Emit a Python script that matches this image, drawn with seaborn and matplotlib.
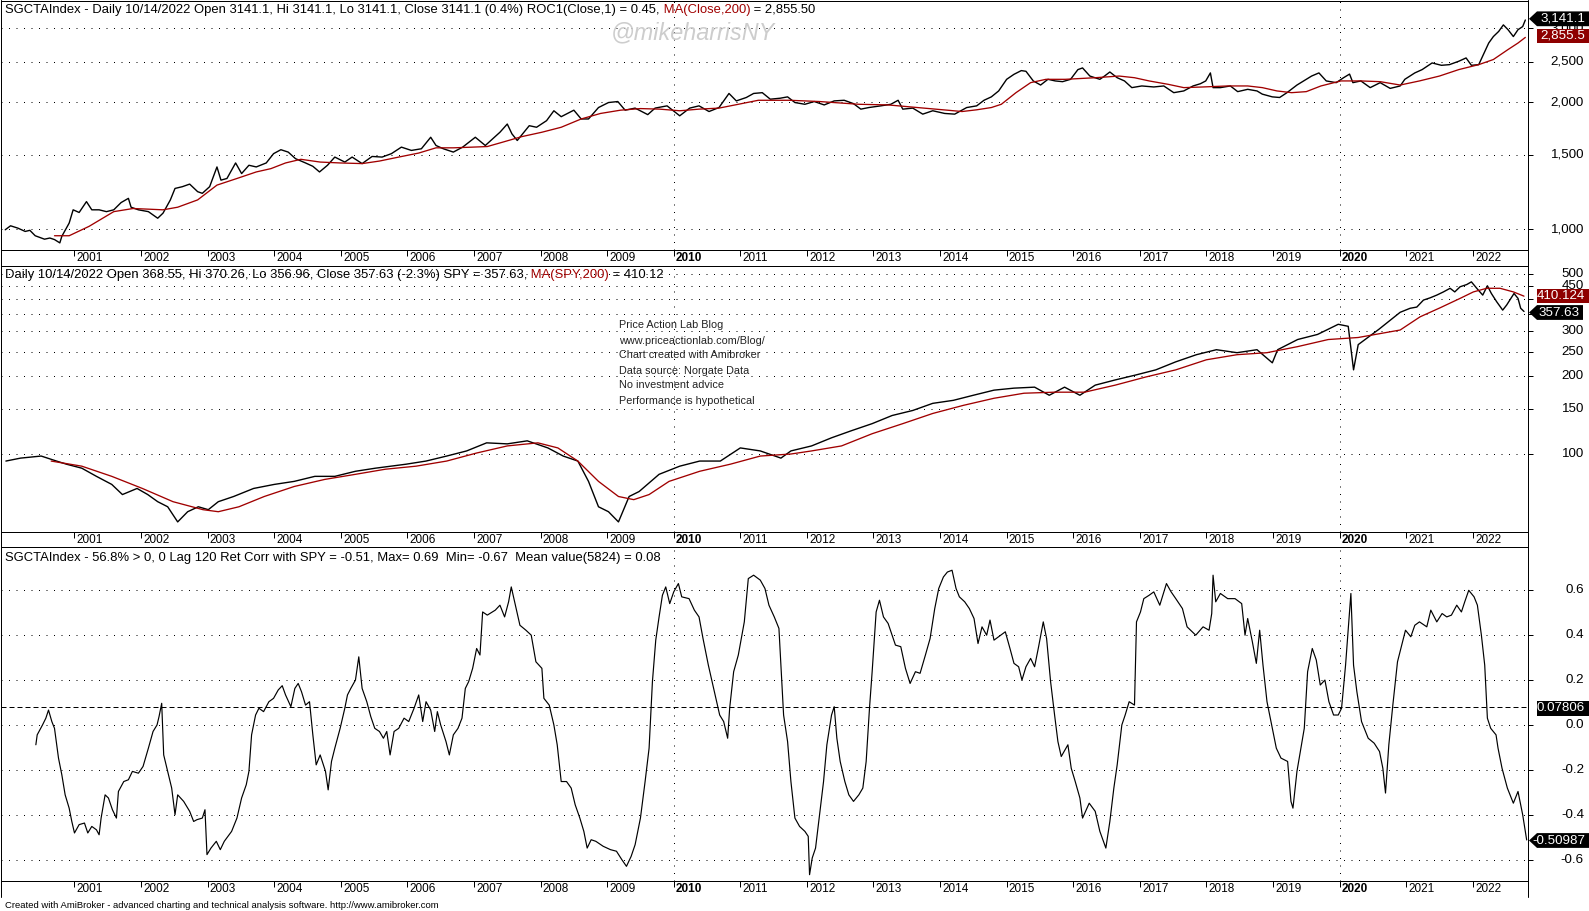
import matplotlib
matplotlib.use("Agg")
import matplotlib.pyplot as plt
import seaborn as sns
import pandas as pd
from matplotlib.ticker import FixedLocator, NullLocator, NullFormatter
from matplotlib.patches import Polygon
from matplotlib.lines import Line2D

# ---------------- data (fractional year, value) ----------------
SGCTA = [
    (1999.96, 996), (2000.04, 1018), (2000.15, 1005), (2000.26, 987), (2000.33, 993), (2000.41, 964),
    (2000.55, 946), (2000.63, 952), (2000.70, 944), (2000.78, 927), (2000.81, 961), (2000.85, 987),
    (2000.92, 1033), (2000.98, 1111), (2001.07, 1095), (2001.18, 1162), (2001.26, 1111), (2001.37, 1111),
    (2001.48, 1100), (2001.59, 1111), (2001.70, 1156), (2001.81, 1183), (2001.85, 1127), (2001.96, 1111),
    (2002.11, 1100), (2002.25, 1061), (2002.33, 1091), (2002.44, 1173), (2002.51, 1249), (2002.62, 1261),
    (2002.73, 1279), (2002.85, 1227), (2002.92, 1216), (2003.03, 1261), (2003.14, 1405), (2003.20, 1307),
    (2003.29, 1319), (2003.42, 1436), (2003.51, 1355), (2003.62, 1418), (2003.73, 1405), (2003.88, 1436),
    (2003.99, 1511), (2004.10, 1544), (2004.21, 1524), (2004.32, 1470), (2004.47, 1436), (2004.58, 1410),
    (2004.68, 1367), (2004.80, 1418), (2004.91, 1483), (2005.06, 1443), (2005.17, 1483), (2005.32, 1431),
    (2005.47, 1488), (2005.62, 1483), (2005.76, 1511), (2005.91, 1566), (2006.06, 1538), (2006.21, 1552),
    (2006.35, 1653), (2006.43, 1580), (2006.54, 1552), (2006.69, 1524), (2006.83, 1566), (2007.02, 1653),
    (2007.17, 1580), (2007.28, 1638), (2007.39, 1699), (2007.50, 1777), (2007.57, 1684), (2007.65, 1624),
    (2007.83, 1761), (2007.94, 1746), (2008.09, 1810), (2008.20, 1911), (2008.31, 1850), (2008.50, 1917),
    (2008.61, 1827), (2008.72, 1827), (2008.87, 1945), (2009.02, 1999), (2009.16, 2010), (2009.27, 1917),
    (2009.42, 1939), (2009.61, 1871), (2009.72, 1939), (2009.90, 1963), (2010.09, 1859), (2010.24, 1939),
    (2010.38, 1963), (2010.53, 1903), (2010.68, 1945), (2010.83, 2101), (2010.94, 2017), (2011.09, 2055),
    (2011.20, 2101), (2011.33, 2110), (2011.45, 2036), (2011.60, 2047), (2011.71, 2062), (2011.82, 1999),
    (2011.97, 1980), (2012.11, 2010), (2012.26, 1973), (2012.41, 2017), (2012.56, 2024), (2012.70, 1987),
    (2012.81, 1928), (2012.93, 1945), (2013.11, 1963), (2013.26, 1980), (2013.37, 2024), (2013.44, 1928),
    (2013.59, 1939), (2013.74, 1876), (2013.89, 1911), (2014.07, 1883), (2014.22, 1876), (2014.40, 1945),
    (2014.55, 1963), (2014.66, 2024), (2014.77, 2062), (2014.88, 2130), (2015.00, 2270), (2015.11, 2333),
    (2015.22, 2381), (2015.29, 2372), (2015.40, 2250), (2015.51, 2200), (2015.62, 2270), (2015.73, 2250),
    (2015.84, 2241), (2015.96, 2270), (2016.07, 2394), (2016.14, 2416), (2016.25, 2311), (2016.40, 2270),
    (2016.47, 2311), (2016.55, 2363), (2016.66, 2290), (2016.77, 2250), (2016.88, 2169), (2017.03, 2189),
    (2017.21, 2177), (2017.36, 2189), (2017.51, 2110), (2017.66, 2130), (2017.80, 2189), (2017.91, 2216),
    (2017.99, 2250), (2018.06, 2351), (2018.10, 2169), (2018.21, 2169), (2018.36, 2189), (2018.47, 2122),
    (2018.62, 2149), (2018.76, 2130), (2018.84, 2093), (2018.99, 2062), (2019.10, 2055), (2019.21, 2110),
    (2019.36, 2200), (2019.50, 2270), (2019.58, 2311), (2019.69, 2351), (2019.80, 2250), (2019.95, 2229),
    (2020.06, 2290), (2020.15, 2336), (2020.20, 2229), (2020.32, 2250), (2020.46, 2169), (2020.61, 2229),
    (2020.76, 2160), (2020.91, 2189), (2020.98, 2270), (2021.13, 2351), (2021.24, 2394), (2021.39, 2483),
    (2021.53, 2451), (2021.65, 2460), (2021.79, 2506), (2021.90, 2552), (2021.98, 2451), (2022.09, 2460),
    (2022.16, 2599), (2022.24, 2769), (2022.31, 2869), (2022.39, 2951), (2022.46, 3058), (2022.53, 2979),
    (2022.61, 2869), (2022.68, 2979), (2022.75, 3030), (2022.79, 3141),
]

SGCTA_MA = [
    (2000.70, 964), (2000.92, 964), (2001.22, 1015), (2001.59, 1100), (2001.88, 1119), (2002.11, 1115),
    (2002.33, 1111), (2002.55, 1127), (2002.85, 1173), (2003.14, 1272), (2003.44, 1319), (2003.73, 1367),
    (2003.95, 1392), (2004.17, 1436), (2004.40, 1465), (2004.69, 1443), (2004.99, 1436), (2005.32, 1431),
    (2005.58, 1451), (2005.87, 1483), (2006.17, 1516), (2006.43, 1560), (2006.69, 1560), (2006.98, 1566),
    (2007.20, 1571), (2007.43, 1609), (2007.72, 1659), (2008.02, 1699), (2008.31, 1746), (2008.61, 1827),
    (2008.90, 1883), (2009.20, 1917), (2009.50, 1934), (2009.79, 1928), (2010.09, 1911), (2010.38, 1928),
    (2010.68, 1939), (2010.97, 1980), (2011.27, 2024), (2011.74, 2024), (2012.19, 2010), (2012.78, 1980),
    (2013.22, 1973), (2013.66, 1945), (2014.11, 1917), (2014.33, 1903), (2014.55, 1921), (2014.77, 1945),
    (2014.92, 1980), (2015.14, 2110), (2015.36, 2229), (2015.59, 2270), (2015.88, 2270), (2016.33, 2290),
    (2016.69, 2311), (2016.92, 2290), (2017.14, 2250), (2017.43, 2208), (2017.66, 2169), (2017.95, 2177),
    (2018.32, 2189), (2018.62, 2189), (2018.84, 2169), (2019.06, 2130), (2019.28, 2110), (2019.50, 2122),
    (2019.72, 2189), (2020.02, 2250), (2020.32, 2250), (2020.61, 2241), (2020.91, 2200), (2021.20, 2250),
    (2021.50, 2311), (2021.79, 2394), (2022.09, 2460), (2022.31, 2530), (2022.53, 2672), (2022.68, 2769),
    (2022.79, 2855.5),
]

SPY = [
    (1999.97, 93.9), (2000.19, 96.4), (2000.50, 98.2), (2000.73, 93.9), (2000.88, 91.3), (2001.11, 88.1),
    (2001.33, 81.9), (2001.56, 76.2), (2001.72, 69.6), (2001.94, 73.5), (2002.10, 69.6), (2002.25, 65.3),
    (2002.40, 62.4), (2002.55, 54.5), (2002.70, 59.7), (2002.86, 62.4), (2003.01, 60.8), (2003.16, 65.3),
    (2003.39, 68.4), (2003.69, 73.5), (2004.00, 76.2), (2004.30, 78.3), (2004.61, 81.9), (2004.91, 81.9),
    (2005.22, 85.7), (2005.52, 88.1), (2005.98, 91.3), (2006.28, 93.9), (2006.59, 98.2), (2006.89, 102.8),
    (2007.19, 110.5), (2007.50, 109.5), (2007.80, 112.5), (2008.11, 105.6), (2008.34, 98.2), (2008.56, 93.9),
    (2008.72, 78.3), (2008.87, 62.4), (2009.02, 59.7), (2009.17, 54.5), (2009.33, 68.4), (2009.48, 71.5),
    (2009.78, 83.4), (2010.09, 89.7), (2010.39, 93.9), (2010.70, 93.9), (2011.00, 105.6), (2011.30, 102.8),
    (2011.61, 96.4), (2011.76, 102.8), (2012.07, 107.5), (2012.37, 115.6), (2012.67, 123.2), (2012.98, 131.2),
    (2013.28, 141.1), (2013.59, 147.6), (2013.89, 157.3), (2014.20, 161.6), (2014.50, 169.1), (2014.81, 177.0),
    (2015.11, 180.2), (2015.42, 181.8), (2015.64, 169.1), (2015.87, 181.8), (2016.10, 169.1), (2016.33, 185.1),
    (2016.63, 193.9), (2016.94, 202.7), (2017.24, 212.2), (2017.54, 228.0), (2017.85, 243.0), (2018.15, 254.1),
    (2018.46, 247.4), (2018.76, 254.1), (2018.99, 226.0), (2019.07, 254.1), (2019.37, 278.3), (2019.67, 291.3),
    (2019.98, 318.9), (2020.13, 313.2), (2020.21, 212.2), (2020.28, 265.9), (2020.59, 304.9), (2020.91, 355.0),
    (2021.06, 368.0), (2021.16, 372.0), (2021.26, 396.0), (2021.36, 404.0), (2021.46, 414.0), (2021.56, 426.0),
    (2021.66, 440.0), (2021.73, 426.0), (2021.81, 446.0), (2021.91, 455.0), (2021.98, 466.0), (2022.06, 440.0),
    (2022.15, 414.0), (2022.22, 450.0), (2022.28, 420.0), (2022.36, 390.0), (2022.45, 362.0), (2022.51, 379.0),
    (2022.62, 420.0), (2022.68, 402.0), (2022.72, 368.0), (2022.77, 357.63),
]

SPY_MA = [
    (2000.65, 93.9), (2001.11, 89.7), (2001.56, 81.9), (2002.02, 73.5), (2002.48, 65.3), (2002.93, 60.8),
    (2003.16, 59.7), (2003.47, 62.4), (2003.85, 68.4), (2004.30, 74.8), (2004.76, 79.7), (2005.22, 83.4),
    (2005.67, 87.3), (2006.13, 89.7), (2006.59, 93.9), (2007.04, 100.9), (2007.50, 107.5), (2007.96, 110.5),
    (2008.26, 105.6), (2008.56, 93.9), (2008.87, 78.3), (2009.17, 68.4), (2009.40, 66.5), (2009.63, 69.6),
    (2009.93, 78.3), (2010.39, 85.7), (2010.85, 91.3), (2011.30, 98.2), (2011.76, 100.0), (2012.07, 102.8),
    (2012.52, 107.5), (2012.98, 119.9), (2013.44, 131.2), (2013.89, 143.7), (2014.35, 154.5), (2014.81, 164.6),
    (2015.26, 172.2), (2015.72, 173.8), (2016.17, 173.8), (2016.63, 185.1), (2017.09, 199.1), (2017.54, 212.2),
    (2018.00, 232.2), (2018.46, 243.0), (2018.91, 247.4), (2019.37, 261.2), (2019.83, 278.3), (2020.28, 283.4),
    (2020.91, 303.0), (2021.21, 341.0), (2021.51, 369.6), (2021.81, 402.0), (2022.01, 426.0), (2022.21, 440.0),
    (2022.41, 440.0), (2022.61, 426.0), (2022.77, 410.12),
]

CORR = [
    (2000.42, -0.088), (2000.44, -0.044), (2000.52, 0.0), (2000.57, 0.03), (2000.61, 0.066), (2000.66, 0.015),
    (2000.70, -0.015), (2000.76, -0.147), (2000.81, -0.221), (2000.86, -0.31), (2000.92, -0.369), (2000.96, -0.428),
    (2001.00, -0.479), (2001.07, -0.442), (2001.15, -0.435), (2001.20, -0.479), (2001.26, -0.45), (2001.33, -0.465),
    (2001.37, -0.487), (2001.40, -0.413), (2001.46, -0.31), (2001.51, -0.324), (2001.57, -0.376), (2001.63, -0.413),
    (2001.66, -0.295), (2001.74, -0.251), (2001.81, -0.243), (2001.87, -0.206), (2001.96, -0.214), (2002.03, -0.184),
    (2002.11, -0.103), (2002.18, -0.029), (2002.24, 0.0), (2002.27, 0.037), (2002.31, 0.096), (2002.34, -0.133),
    (2002.40, -0.206), (2002.46, -0.28), (2002.51, -0.398), (2002.55, -0.31), (2002.64, -0.339), (2002.73, -0.383),
    (2002.79, -0.428), (2002.84, -0.42), (2002.92, -0.413), (2002.96, -0.376), (2002.99, -0.575), (2003.05, -0.546),
    (2003.13, -0.516), (2003.19, -0.553), (2003.25, -0.516), (2003.36, -0.472), (2003.44, -0.413), (2003.51, -0.324),
    (2003.58, -0.265), (2003.62, -0.206), (2003.66, -0.044), (2003.72, 0.044), (2003.77, 0.074), (2003.84, 0.059),
    (2003.92, 0.103), (2003.99, 0.118), (2004.06, 0.155), (2004.12, 0.174), (2004.17, 0.133), (2004.25, 0.081),
    (2004.31, 0.162), (2004.36, 0.184), (2004.41, 0.147), (2004.47, 0.088), (2004.53, 0.103), (2004.58, -0.044),
    (2004.63, -0.177), (2004.69, -0.133), (2004.77, -0.206), (2004.81, -0.288), (2004.86, -0.162), (2004.91, -0.103),
    (2004.99, -0.015), (2005.06, 0.074), (2005.10, 0.133), (2005.15, 0.162), (2005.22, 0.199), (2005.27, 0.302),
    (2005.32, 0.162), (2005.39, 0.103), (2005.45, 0.037), (2005.51, -0.015), (2005.58, -0.029), (2005.64, -0.059),
    (2005.69, -0.029), (2005.74, -0.133), (2005.80, -0.029), (2005.87, -0.015), (2005.95, 0.03), (2006.02, 0.015),
    (2006.10, 0.074), (2006.17, 0.133), (2006.23, 0.015), (2006.28, 0.103), (2006.35, 0.066), (2006.41, -0.029),
    (2006.45, 0.059), (2006.50, 0.0), (2006.58, -0.074), (2006.63, -0.133), (2006.69, -0.044), (2006.76, -0.015),
    (2006.82, 0.03), (2006.87, 0.162), (2006.92, 0.192), (2006.98, 0.251), (2007.04, 0.339), (2007.09, 0.31),
    (2007.13, 0.501), (2007.20, 0.487), (2007.32, 0.509), (2007.39, 0.531), (2007.46, 0.479), (2007.52, 0.546),
    (2007.56, 0.612), (2007.61, 0.546), (2007.69, 0.442), (2007.78, 0.42), (2007.86, 0.398), (2007.93, 0.28),
    (2008.02, 0.251), (2008.05, 0.118), (2008.13, 0.088), (2008.20, 0.0), (2008.25, -0.088), (2008.31, -0.251),
    (2008.39, -0.251), (2008.46, -0.28), (2008.52, -0.354), (2008.59, -0.413), (2008.65, -0.472), (2008.70, -0.546),
    (2008.76, -0.509), (2008.83, -0.516), (2008.94, -0.538), (2009.05, -0.553), (2009.14, -0.56), (2009.22, -0.597),
    (2009.29, -0.627), (2009.36, -0.583), (2009.42, -0.531), (2009.50, -0.413), (2009.57, -0.251), (2009.63, -0.103),
    (2009.68, 0.192), (2009.73, 0.376), (2009.78, 0.479), (2009.83, 0.575), (2009.88, 0.612), (2009.94, 0.538),
    (2010.00, 0.59), (2010.07, 0.627), (2010.12, 0.568), (2010.23, 0.56), (2010.31, 0.509), (2010.38, 0.479),
    (2010.44, 0.383), (2010.52, 0.265), (2010.60, 0.162), (2010.69, 0.044), (2010.75, 0.015), (2010.81, -0.059),
    (2010.84, 0.074), (2010.90, 0.236), (2010.97, 0.31), (2011.06, 0.457), (2011.12, 0.649), (2011.20, 0.664),
    (2011.30, 0.642), (2011.37, 0.605), (2011.43, 0.531), (2011.51, 0.479), (2011.58, 0.428), (2011.61, 0.265),
    (2011.65, 0.044), (2011.71, -0.074), (2011.76, -0.251), (2011.82, -0.413), (2011.89, -0.45), (2011.97, -0.472),
    (2012.02, -0.494), (2012.04, -0.664), (2012.08, -0.59), (2012.13, -0.546), (2012.19, -0.398), (2012.25, -0.251),
    (2012.30, -0.088), (2012.37, 0.044), (2012.41, 0.081), (2012.45, -0.059), (2012.50, -0.162), (2012.57, -0.251),
    (2012.63, -0.31), (2012.70, -0.339), (2012.78, -0.31), (2012.84, -0.28), (2012.89, -0.162), (2012.94, 0.074),
    (2012.98, 0.236), (2013.04, 0.501), (2013.09, 0.553), (2013.15, 0.479), (2013.22, 0.45), (2013.28, 0.398),
    (2013.33, 0.354), (2013.41, 0.347), (2013.48, 0.251), (2013.55, 0.184), (2013.63, 0.236), (2013.70, 0.229),
    (2013.78, 0.31), (2013.85, 0.383), (2013.92, 0.516), (2013.98, 0.605), (2014.05, 0.656), (2014.11, 0.678),
    (2014.18, 0.686), (2014.24, 0.605), (2014.29, 0.568), (2014.37, 0.546), (2014.44, 0.516), (2014.51, 0.472),
    (2014.57, 0.361), (2014.63, 0.435), (2014.70, 0.398), (2014.75, 0.465), (2014.81, 0.376), (2014.88, 0.391),
    (2014.98, 0.413), (2015.05, 0.339), (2015.11, 0.273), (2015.18, 0.258), (2015.23, 0.199), (2015.29, 0.258),
    (2015.36, 0.295), (2015.42, 0.258), (2015.48, 0.347), (2015.55, 0.457), (2015.60, 0.383), (2015.66, 0.192),
    (2015.72, 0.044), (2015.77, -0.074), (2015.82, -0.14), (2015.92, -0.088), (2015.97, -0.192), (2016.03, -0.251),
    (2016.10, -0.324), (2016.14, -0.413), (2016.24, -0.347), (2016.33, -0.383), (2016.40, -0.472), (2016.49, -0.546),
    (2016.55, -0.428), (2016.61, -0.28), (2016.66, -0.177), (2016.73, 0.0), (2016.78, 0.044), (2016.84, 0.103),
    (2016.92, 0.088), (2016.95, 0.457), (2017.01, 0.501), (2017.06, 0.56), (2017.14, 0.575), (2017.21, 0.59),
    (2017.30, 0.531), (2017.40, 0.627), (2017.47, 0.59), (2017.54, 0.56), (2017.64, 0.516), (2017.71, 0.435),
    (2017.84, 0.398), (2017.95, 0.435), (2018.04, 0.42), (2018.08, 0.494), (2018.10, 0.664), (2018.14, 0.546),
    (2018.21, 0.583), (2018.32, 0.56), (2018.43, 0.56), (2018.53, 0.538), (2018.58, 0.398), (2018.62, 0.472),
    (2018.69, 0.369), (2018.75, 0.273), (2018.80, 0.42), (2018.85, 0.265), (2018.91, 0.103), (2018.97, 0.015),
    (2019.05, -0.103), (2019.12, -0.147), (2019.22, -0.162), (2019.27, -0.339), (2019.30, -0.369), (2019.36, -0.206),
    (2019.41, -0.118), (2019.47, -0.015), (2019.52, 0.236), (2019.59, 0.339), (2019.65, 0.288), (2019.71, 0.177),
    (2019.78, 0.199), (2019.84, 0.103), (2019.91, 0.044), (2019.98, 0.044), (2020.03, 0.074), (2020.09, 0.265),
    (2020.17, 0.583), (2020.21, 0.265), (2020.26, 0.147), (2020.33, 0.015), (2020.43, -0.059), (2020.52, -0.081),
    (2020.60, -0.118), (2020.65, -0.192), (2020.69, -0.302), (2020.74, -0.088), (2020.80, 0.088), (2020.87, 0.28),
    (2020.94, 0.361), (2020.99, 0.42), (2021.07, 0.391), (2021.13, 0.442), (2021.20, 0.457), (2021.31, 0.435),
    (2021.37, 0.509), (2021.46, 0.457), (2021.54, 0.494), (2021.61, 0.479), (2021.68, 0.487), (2021.76, 0.531),
    (2021.83, 0.501), (2021.88, 0.546), (2021.94, 0.597), (2022.02, 0.568), (2022.07, 0.531), (2022.13, 0.398),
    (2022.18, 0.265), (2022.22, 0.03), (2022.27, -0.015), (2022.35, -0.044), (2022.38, -0.103), (2022.44, -0.192),
    (2022.52, -0.28), (2022.61, -0.347), (2022.68, -0.295), (2022.75, -0.398), (2022.81, -0.51),
]

CORR_MEAN = 0.07806
YEARS = list(range(2001, 2023))
P1_TICKS = [1000, 1500, 2000, 2500, 3000]
P1_LABELS = ["1,000", "1,500", "2,000", "2,500", "3,000"]
P2_TICKS = [100, 150, 200, 250, 300, 350, 400, 450, 500]
P2_LABELS = ["100", "150", "200", "250", "300", "350", "400", "450", "500"]
P3_TICKS = [-0.6, -0.4, -0.2, 0.0, 0.2, 0.4, 0.6]
P3_LABELS = ["-0.6", "-0.4", "-0.2", "0.0", "0.2", "0.4", "0.6"]

TITLE1 = [("SGCTAIndex - Daily 10/14/2022 Open 3141.1, Hi 3141.1, Lo 3141.1, Close 3141.1 (0.4%) ROC1(Close,1) = 0.45,", "k"),
          (" MA(Close,200)", "red"), (" = 2,855.50", "k")]
TITLE2 = [("Daily 10/14/2022 Open 368.55, Hi 370.26, Lo 356.96, Close 357.63 (-2.3%) SPY = 357.63,", "k"),
          (" MA(SPY,200)", "red"), (" = 410.12", "k")]
TITLE3 = [("SGCTAIndex - 56.8% > 0, 0 Lag 120 Ret Corr with SPY = -0.51, Max= 0.69  Min= -0.67  Mean value(5824) = 0.08", "k")]
INFO = ["Price Action Lab Blog", "www.priceactionlab.com/Blog/", "Chart created with Amibroker",
        "Data source: Norgate Data", "No investment advice", "Performance is hypothetical"]
FOOTER = "Created with AmiBroker - advanced charting and technical analysis software. http://www.amibroker.com"

# ---------------- styling ----------------
sns.set_theme(style="white")
plt.rcParams['font.family'] = ['Liberation Sans', 'DejaVu Sans']

W, H = 1589, 911
fig = plt.figure(figsize=(W / 100, H / 100), dpi=100)
fig.patch.set_facecolor('white')

RED = '#A00000'
TAGRED = '#8E0000'
PX = 0.72            # one pixel in points
DOT = (0, (1, 6.5))
TITLE_FS = 9.4
YLAB_FS = 9.6

def fx(x):
    return x / W

def fy(y):
    return 1 - y / H

def rect(x0, y0, x1, y1):
    return [x0 / W, 1 - y1 / H, (x1 - x0) / W, (y1 - y0) / H]

XMIN, XMAX = 1999.889, 2022.83

ax1 = fig.add_axes(rect(0.5, 0.5, 1528, 250))
ax2 = fig.add_axes(rect(0.5, 266, 1528, 532))
ax3 = fig.add_axes(rect(0.5, 547, 1528, 881))

def frame(ax, yticks, ylabels, ylim, log):
    if log:
        ax.set_yscale('log')
    ax.set_facecolor('white')
    ax.set_xlim(XMIN, XMAX)
    ax.set_ylim(*ylim)
    ax.yaxis.set_major_locator(FixedLocator(yticks))
    ax.yaxis.set_minor_locator(NullLocator())
    ax.yaxis.set_major_formatter(NullFormatter())
    ax.yaxis.set_minor_formatter(NullFormatter())
    ax.xaxis.set_major_locator(FixedLocator(YEARS))
    ax.xaxis.set_minor_locator(NullLocator())
    ax.xaxis.set_major_formatter(NullFormatter())
    ax.yaxis.tick_right()
    ax.tick_params(axis='y', which='major', direction='out', length=3.6, width=PX, colors='black',
                   right=True, left=False)
    ax.tick_params(axis='x', which='major', direction='out', length=4.3, width=PX, colors='black',
                   bottom=True, top=False)
    ax.grid(False)
    for s in ax.spines.values():
        s.set_linewidth(PX)
        s.set_color('black')
        s.set_visible(True)
    for v in yticks:
        ax.axhline(v, color='black', lw=PX, ls=DOT, zorder=1)
    for v in (2010, 2020):
        ax.axvline(v, color='black', lw=PX, ls=DOT, zorder=1)
    for v, lab in zip(yticks, ylabels):
        ax.annotate(lab, xy=(1, v), xycoords=('axes fraction', 'data'), xytext=(40.3, 0),
                    textcoords='offset points', ha='right', va='center', fontsize=YLAB_FS, color='black',
                    annotation_clip=False, zorder=3)
    for yr in YEARS:
        bold = yr in (2010, 2020)
        ax.annotate(str(yr), xy=(yr, 0), xycoords=('data', 'axes fraction'), xytext=(1.6, -1.2),
                    textcoords='offset points', ha='left', va='top', fontsize=8.5, color='black',
                    fontweight='bold' if bold else 'normal', annotation_clip=False)
    ax.set_xlabel('')
    ax.set_ylabel('')

def line(ax, data, color, lw):
    df = pd.DataFrame(data, columns=['year', 'value'])
    sns.lineplot(data=df, x='year', y='value', ax=ax, color=color, linewidth=lw,
                 estimator=None, sort=False, legend=False, zorder=4)

line(ax1, SGCTA, 'black', 1.0)
line(ax1, SGCTA_MA, RED, 0.95)
frame(ax1, P1_TICKS, P1_LABELS, (891.6, 3495), True)

line(ax2, SPY, 'black', 1.0)
line(ax2, SPY_MA, RED, 0.95)
frame(ax2, P2_TICKS, P2_LABELS, (49.8, 537), True)

line(ax3, CORR, 'black', 0.85)
ax3.axhline(CORR_MEAN, color='black', lw=PX, ls=(0, (5, 3)), zorder=2)
frame(ax3, P3_TICKS, P3_LABELS, (-0.692, 0.789), False)

# full-height borders
fig.add_artist(Line2D([fx(1528), fx(1528)], [fy(0), fy(897)], transform=fig.transFigure, color='black', lw=PX))
fig.add_artist(Line2D([fx(0.5), fx(0.5)], [fy(0), fy(897)], transform=fig.transFigure, color='black', lw=PX))

# ---------------- texts ----------------
renderer = fig.canvas.get_renderer()

def rich(x, y, parts, size=TITLE_FS):
    for s, c in parts:
        col = RED if c == 'red' else 'black'
        t = fig.text(fx(x), fy(y), s, color=col, fontsize=size, ha='left', va='center', zorder=10)
        x += t.get_window_extent(renderer).width

rich(5, 10, TITLE1)
rich(5, 275, TITLE2)
rich(5, 558, TITLE3)

fig.text(fx(693), fy(33), "@mikeharrisNY", fontsize=16.8, style='italic', color='#CDCDCD',
         ha='center', va='center', zorder=9)

for i, s in enumerate(INFO):
    fig.text(fx(619), fy(325.5 + i * 15.0), s, fontsize=7.8, color='#222222', ha='left', va='center', zorder=9)

fig.text(fx(5), fy(905), FOOTER, fontsize=6.8, color='black', ha='left', va='center')

# ---------------- value tags ----------------
def tag(text, yc, color, arrow, x_right=1589, half=7.4):
    if arrow:
        pts = [(1529, yc), (1537, yc - half), (x_right, yc - half), (x_right, yc + half), (1537, yc + half)]
    else:
        pts = [(1537, yc - half), (x_right, yc - half), (x_right, yc + half), (1537, yc + half)]
    poly = Polygon([(fx(a), fy(b)) for a, b in pts], closed=True, transform=fig.transFigure,
                   facecolor=color, edgecolor='none', zorder=20)
    fig.add_artist(poly)
    fig.text(fx(min(x_right - 3, 1585)), fy(yc), text, color='white', fontsize=YLAB_FS,
             ha='right', va='center', zorder=21)

tag("3,141.1", 18.8, 'black', True)
tag("2,855.5", 36.0, TAGRED, False)
tag("410.124", 296.0, TAGRED, False)
tag("357.63", 312.5, 'black', True, x_right=1583)
tag("0.07806", 708.3, 'black', False)
tag("-0.50987", 840.5, 'black', True)

fig.savefig("out.png", dpi=100, facecolor='white')
